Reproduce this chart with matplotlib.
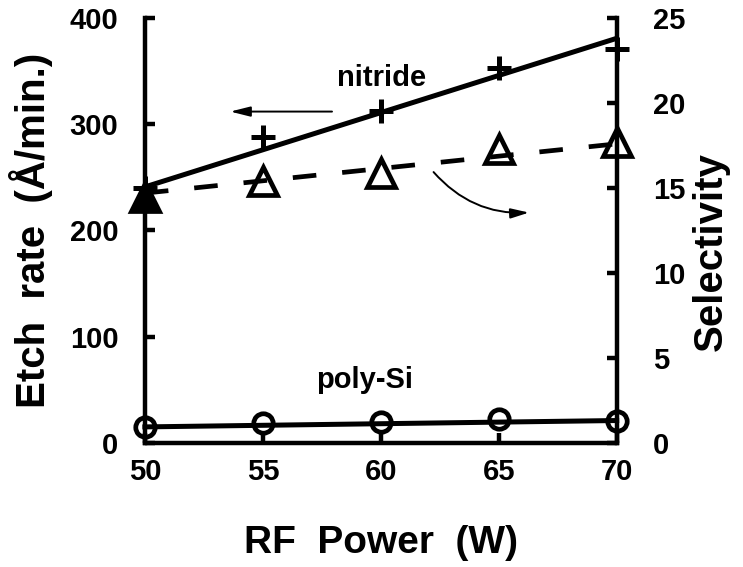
import numpy as np
import matplotlib
matplotlib.use('Agg')
import matplotlib.pyplot as plt

plt.rcParams['font.family'] = ['Liberation Sans', 'DejaVu Sans']
plt.rcParams['font.weight'] = 'bold'

# data
power = [50, 55, 60, 65, 70]
nitride = [240, 288, 313, 353, 371]
poly_si = [15, 19, 20, 22, 21]
selectivity = [14.5, 15.4, 15.9, 17.3, 17.7]

fit_x = [50, 70]
nitride_fit = [241, 381]
poly_fit = [15, 21]
sel_fit = [14.7, 17.6]

fig = plt.figure(figsize=(7.43, 5.67), dpi=100)
ax = fig.add_axes([0.195, 0.219, 0.635, 0.749])
ax2 = ax.twinx()

ax.plot(fit_x, nitride_fit, color='black', lw=3.6, solid_capstyle='butt', clip_on=False)
ax.plot(power, nitride, ls='none', marker='+', ms=17, mew=3.6, color='black', clip_on=False)
ax.plot(fit_x, poly_fit, color='black', lw=3.6, clip_on=False)
ax.plot(power, poly_si, ls='none', marker='o', ms=14, mew=3.4, mfc='none', mec='black', clip_on=False)

ax2.plot(fit_x, sel_fit, color='black', lw=3.4, ls=(0, (5, 5.5)), clip_on=False)
ax2.plot(power[1:], selectivity[1:], ls='none', marker='^', ms=20, mew=3.4, mfc='none', mec='black', clip_on=False)
ax2.plot(power[:1], selectivity[:1], ls='none', marker='^', ms=20, mew=3.4, mfc='black', mec='black', clip_on=False)

ax.set_xlim(50, 70)
ax.set_ylim(0, 400)
ax2.set_ylim(0, 25)
ax.set_xticks(power)
ax.set_yticks([0, 100, 200, 300, 400])
ax2.set_yticks([0, 5, 10, 15, 20, 25])

for a in (ax, ax2):
    a.spines['top'].set_visible(False)
    for s in a.spines.values():
        s.set_linewidth(3.2)
ax.spines['right'].set_visible(False)
ax2.spines['left'].set_visible(False)
ax2.spines['bottom'].set_visible(False)

ax.tick_params(axis='both', direction='in', length=7.5, width=3.2, labelsize=21)
ax.tick_params(axis='y', pad=19)
ax.tick_params(axis='x', pad=11)
ax2.tick_params(axis='y', direction='in', length=7.5, width=3.2, labelsize=21, pad=26)

ax.set_xlabel('RF  Power  (W)', fontsize=28, fontweight='bold', labelpad=28)
ax.set_ylabel('Etch  rate  (\u00c5/min.)', fontsize=29, fontweight='bold', labelpad=12)
ax2.set_ylabel('Selectivity', fontsize=29, fontweight='bold')
ax2.yaxis.set_label_coords(1.16, 0.45)

ax.text(60.05, 344, 'nitride', fontsize=21, fontweight='bold', ha='center', va='center')
ax.text(59.3, 59, 'poly-Si', fontsize=21, fontweight='bold', ha='center', va='center')

ax.annotate('', xy=(53.5, 312), xytext=(58.05, 312),
            arrowprops=dict(arrowstyle='-|>,head_length=1.2,head_width=0.3', color='black', lw=1.4))
ax.annotate('', xy=(66.4, 217), xytext=(62.16, 257),
            arrowprops=dict(arrowstyle='-|>,head_length=1.1,head_width=0.3', color='black', lw=1.4,
                            connectionstyle='arc3,rad=0.25'))

fig.savefig('out.png', dpi=100)
